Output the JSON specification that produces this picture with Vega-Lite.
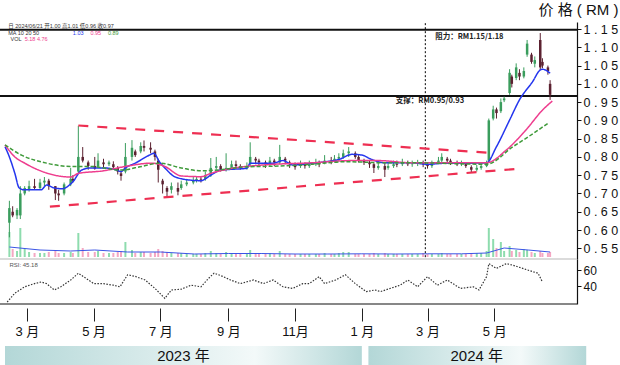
{
  "$schema": "https://vega.github.io/schema/vega-lite/v6.json",
  "width": 577,
  "height": 282,
  "autosize": {"type": "none"},
  "padding": {"left": 0, "top": 22, "right": 43, "bottom": 61},
  "background": "white",
  "config": {"view": {"stroke": null}, "font": "Liberation Sans"},
  "datasets": {
    "candles": [
      {"d":"2023-02-13","o":0.62,"h":0.68,"l":0.58,"c":0.66,"v":25},
      {"d":"2023-02-16","o":0.65,"h":0.665,"l":0.635,"c":0.64,"v":8},
      {"d":"2023-02-20","o":0.64,"h":0.66,"l":0.63,"c":0.655,"v":6},
      {"d":"2023-02-23","o":0.64,"h":0.72,"l":0.63,"c":0.70,"v":29},
      {"d":"2023-02-27","o":0.70,"h":0.72,"l":0.695,"c":0.715,"v":8},
      {"d":"2023-03-03","o":0.71,"h":0.735,"l":0.705,"c":0.72,"v":5},
      {"d":"2023-03-08","o":0.72,"h":0.74,"l":0.71,"c":0.715,"v":4},
      {"d":"2023-03-13","o":0.715,"h":0.74,"l":0.71,"c":0.73,"v":4},
      {"d":"2023-03-17","o":0.73,"h":0.745,"l":0.72,"c":0.735,"v":4},
      {"d":"2023-03-21","o":0.735,"h":0.74,"l":0.71,"c":0.72,"v":5},
      {"d":"2023-03-27","o":0.72,"h":0.72,"l":0.682,"c":0.70,"v":6},
      {"d":"2023-03-30","o":0.70,"h":0.71,"l":0.68,"c":0.695,"v":4},
      {"d":"2023-04-04","o":0.70,"h":0.73,"l":0.695,"c":0.725,"v":4},
      {"d":"2023-04-10","o":0.725,"h":0.77,"l":0.72,"c":0.74,"v":5},
      {"d":"2023-04-12","o":0.74,"h":0.75,"l":0.73,"c":0.735,"v":4},
      {"d":"2023-04-17","o":0.76,"h":0.885,"l":0.755,"c":0.80,"v":24},
      {"d":"2023-04-21","o":0.80,"h":0.827,"l":0.785,"c":0.79,"v":9},
      {"d":"2023-04-26","o":0.785,"h":0.79,"l":0.765,"c":0.775,"v":5},
      {"d":"2023-05-02","o":0.775,"h":0.80,"l":0.765,"c":0.768,"v":5},
      {"d":"2023-05-05","o":0.775,"h":0.81,"l":0.77,"c":0.79,"v":6},
      {"d":"2023-05-10","o":0.785,"h":0.795,"l":0.772,"c":0.78,"v":4},
      {"d":"2023-05-15","o":0.78,"h":0.79,"l":0.775,"c":0.785,"v":4},
      {"d":"2023-05-19","o":0.78,"h":0.788,"l":0.765,"c":0.772,"v":4},
      {"d":"2023-05-23","o":0.77,"h":0.775,"l":0.752,"c":0.76,"v":5},
      {"d":"2023-05-26","o":0.755,"h":0.76,"l":0.735,"c":0.748,"v":6},
      {"d":"2023-05-30","o":0.76,"h":0.838,"l":0.755,"c":0.80,"v":15},
      {"d":"2023-06-05","o":0.80,"h":0.846,"l":0.79,"c":0.825,"v":7},
      {"d":"2023-06-08","o":0.815,"h":0.82,"l":0.80,"c":0.805,"v":4},
      {"d":"2023-06-13","o":0.815,"h":0.84,"l":0.81,"c":0.83,"v":5},
      {"d":"2023-06-16","o":0.83,"h":0.845,"l":0.815,"c":0.825,"v":5},
      {"d":"2023-06-22","o":0.825,"h":0.84,"l":0.81,"c":0.82,"v":4},
      {"d":"2023-06-26","o":0.815,"h":0.82,"l":0.79,"c":0.80,"v":5},
      {"d":"2023-06-29","o":0.79,"h":0.795,"l":0.73,"c":0.765,"v":8},
      {"d":"2023-07-03","o":0.735,"h":0.74,"l":0.70,"c":0.725,"v":6},
      {"d":"2023-07-07","o":0.715,"h":0.72,"l":0.69,"c":0.705,"v":5},
      {"d":"2023-07-11","o":0.71,"h":0.73,"l":0.70,"c":0.72,"v":4},
      {"d":"2023-07-17","o":0.715,"h":0.73,"l":0.695,"c":0.705,"v":4},
      {"d":"2023-07-20","o":0.715,"h":0.735,"l":0.71,"c":0.725,"v":4},
      {"d":"2023-07-25","o":0.725,"h":0.74,"l":0.72,"c":0.73,"v":3},
      {"d":"2023-07-31","o":0.73,"h":0.745,"l":0.725,"c":0.735,"v":3},
      {"d":"2023-08-03","o":0.735,"h":0.748,"l":0.73,"c":0.74,"v":3},
      {"d":"2023-08-07","o":0.74,"h":0.745,"l":0.73,"c":0.738,"v":3},
      {"d":"2023-08-11","o":0.74,"h":0.76,"l":0.735,"c":0.75,"v":4},
      {"d":"2023-08-16","o":0.75,"h":0.797,"l":0.745,"c":0.77,"v":6},
      {"d":"2023-08-21","o":0.77,"h":0.80,"l":0.765,"c":0.775,"v":4},
      {"d":"2023-08-25","o":0.775,"h":0.78,"l":0.76,"c":0.765,"v":3},
      {"d":"2023-08-30","o":0.765,"h":0.81,"l":0.76,"c":0.77,"v":5},
      {"d":"2023-09-04","o":0.77,"h":0.79,"l":0.765,"c":0.78,"v":4},
      {"d":"2023-09-08","o":0.78,"h":0.79,"l":0.77,"c":0.775,"v":3},
      {"d":"2023-09-12","o":0.775,"h":0.78,"l":0.765,"c":0.77,"v":3},
      {"d":"2023-09-18","o":0.77,"h":0.785,"l":0.765,"c":0.775,"v":3},
      {"d":"2023-09-21","o":0.78,"h":0.84,"l":0.775,"c":0.80,"v":7},
      {"d":"2023-09-26","o":0.795,"h":0.80,"l":0.78,"c":0.79,"v":3},
      {"d":"2023-09-29","o":0.79,"h":0.795,"l":0.778,"c":0.785,"v":3},
      {"d":"2023-10-05","o":0.785,"h":0.79,"l":0.77,"c":0.78,"v":3},
      {"d":"2023-10-09","o":0.78,"h":0.80,"l":0.775,"c":0.79,"v":4},
      {"d":"2023-10-13","o":0.79,"h":0.795,"l":0.775,"c":0.785,"v":3},
      {"d":"2023-10-18","o":0.785,"h":0.833,"l":0.78,"c":0.80,"v":6},
      {"d":"2023-10-23","o":0.795,"h":0.80,"l":0.78,"c":0.79,"v":3},
      {"d":"2023-10-27","o":0.785,"h":0.79,"l":0.77,"c":0.78,"v":3},
      {"d":"2023-11-01","o":0.78,"h":0.785,"l":0.765,"c":0.772,"v":3},
      {"d":"2023-11-06","o":0.775,"h":0.79,"l":0.77,"c":0.78,"v":3},
      {"d":"2023-11-10","o":0.78,"h":0.785,"l":0.768,"c":0.775,"v":3},
      {"d":"2023-11-14","o":0.775,"h":0.79,"l":0.77,"c":0.78,"v":3},
      {"d":"2023-11-20","o":0.78,"h":0.795,"l":0.775,"c":0.785,"v":3},
      {"d":"2023-11-23","o":0.785,"h":0.79,"l":0.772,"c":0.78,"v":3},
      {"d":"2023-11-28","o":0.785,"h":0.805,"l":0.78,"c":0.79,"v":4},
      {"d":"2023-12-04","o":0.79,"h":0.80,"l":0.78,"c":0.788,"v":3},
      {"d":"2023-12-07","o":0.79,"h":0.805,"l":0.785,"c":0.795,"v":3},
      {"d":"2023-12-11","o":0.795,"h":0.81,"l":0.79,"c":0.80,"v":4},
      {"d":"2023-12-15","o":0.80,"h":0.82,"l":0.795,"c":0.81,"v":5},
      {"d":"2023-12-20","o":0.81,"h":0.827,"l":0.80,"c":0.815,"v":5},
      {"d":"2023-12-26","o":0.81,"h":0.815,"l":0.795,"c":0.80,"v":3},
      {"d":"2023-12-29","o":0.80,"h":0.805,"l":0.785,"c":0.79,"v":3},
      {"d":"2024-01-03","o":0.79,"h":0.795,"l":0.778,"c":0.785,"v":3},
      {"d":"2024-01-08","o":0.785,"h":0.79,"l":0.77,"c":0.78,"v":3},
      {"d":"2024-01-12","o":0.78,"h":0.783,"l":0.756,"c":0.77,"v":4},
      {"d":"2024-01-16","o":0.77,"h":0.785,"l":0.765,"c":0.775,"v":3},
      {"d":"2024-01-22","o":0.775,"h":0.783,"l":0.745,"c":0.765,"v":4},
      {"d":"2024-01-25","o":0.77,"h":0.785,"l":0.765,"c":0.775,"v":3},
      {"d":"2024-01-30","o":0.775,"h":0.79,"l":0.77,"c":0.78,"v":3},
      {"d":"2024-02-02","o":0.78,"h":0.79,"l":0.772,"c":0.778,"v":3},
      {"d":"2024-02-07","o":0.78,"h":0.795,"l":0.775,"c":0.785,"v":3},
      {"d":"2024-02-12","o":0.785,"h":0.79,"l":0.775,"c":0.78,"v":3},
      {"d":"2024-02-16","o":0.78,"h":0.79,"l":0.773,"c":0.782,"v":3},
      {"d":"2024-02-21","o":0.782,"h":0.792,"l":0.775,"c":0.785,"v":3},
      {"d":"2024-02-26","o":0.785,"h":0.79,"l":0.772,"c":0.78,"v":4},
      {"d":"2024-03-01","o":0.78,"h":0.785,"l":0.768,"c":0.775,"v":3},
      {"d":"2024-03-05","o":0.775,"h":0.79,"l":0.77,"c":0.785,"v":3},
      {"d":"2024-03-11","o":0.785,"h":0.80,"l":0.78,"c":0.79,"v":3},
      {"d":"2024-03-14","o":0.79,"h":0.81,"l":0.785,"c":0.80,"v":4},
      {"d":"2024-03-19","o":0.795,"h":0.80,"l":0.785,"c":0.79,"v":3},
      {"d":"2024-03-22","o":0.79,"h":0.795,"l":0.778,"c":0.785,"v":3},
      {"d":"2024-03-28","o":0.785,"h":0.79,"l":0.775,"c":0.78,"v":3},
      {"d":"2024-04-01","o":0.78,"h":0.79,"l":0.775,"c":0.782,"v":3},
      {"d":"2024-04-05","o":0.78,"h":0.785,"l":0.77,"c":0.775,"v":3},
      {"d":"2024-04-10","o":0.772,"h":0.777,"l":0.758,"c":0.765,"v":4},
      {"d":"2024-04-15","o":0.765,"h":0.778,"l":0.76,"c":0.77,"v":4},
      {"d":"2024-04-19","o":0.77,"h":0.78,"l":0.765,"c":0.775,"v":4},
      {"d":"2024-04-24","o":0.775,"h":0.79,"l":0.772,"c":0.785,"v":6},
      {"d":"2024-04-26","o":0.79,"h":0.905,"l":0.785,"c":0.90,"v":29},
      {"d":"2024-04-30","o":0.905,"h":0.94,"l":0.90,"c":0.93,"v":18},
      {"d":"2024-05-03","o":0.93,"h":0.935,"l":0.905,"c":0.92,"v":9},
      {"d":"2024-05-07","o":0.925,"h":0.96,"l":0.92,"c":0.95,"v":15},
      {"d":"2024-05-10","o":0.955,"h":0.965,"l":0.95,"c":0.96,"v":6},
      {"d":"2024-05-15","o":0.975,"h":1.04,"l":0.97,"c":1.03,"v":11},
      {"d":"2024-05-17","o":1.02,"h":1.025,"l":0.99,"c":1.00,"v":6},
      {"d":"2024-05-21","o":1.016,"h":1.056,"l":1.01,"c":1.045,"v":7},
      {"d":"2024-05-24","o":1.03,"h":1.04,"l":1.01,"c":1.02,"v":5},
      {"d":"2024-05-28","o":1.02,"h":1.045,"l":1.015,"c":1.035,"v":8},
      {"d":"2024-05-31","o":1.08,"h":1.12,"l":1.074,"c":1.11,"v":7},
      {"d":"2024-06-04","o":1.08,"h":1.085,"l":1.055,"c":1.06,"v":5},
      {"d":"2024-06-07","o":1.055,"h":1.075,"l":1.045,"c":1.065,"v":4},
      {"d":"2024-06-12","o":1.12,"h":1.139,"l":1.038,"c":1.045,"v":6},
      {"d":"2024-06-14","o":1.06,"h":1.07,"l":1.043,"c":1.05,"v":4},
      {"d":"2024-06-19","o":1.045,"h":1.05,"l":1.025,"c":1.035,"v":4},
      {"d":"2024-06-21","o":1.00,"h":1.01,"l":0.956,"c":0.97,"v":5}
    ],
    "ma": [
      {"s":"MA10","d":"2023-02-09","p":0.828},{"s":"MA10","d":"2023-02-13","p":0.80},{"s":"MA10","d":"2023-02-18","p":0.755},
      {"s":"MA10","d":"2023-02-22","p":0.715},{"s":"MA10","d":"2023-02-27","p":0.71},{"s":"MA10","d":"2023-03-14","p":0.71},
      {"s":"MA10","d":"2023-03-19","p":0.723},{"s":"MA10","d":"2023-03-26","p":0.715},{"s":"MA10","d":"2023-04-02","p":0.713},
      {"s":"MA10","d":"2023-04-12","p":0.732},{"s":"MA10","d":"2023-04-20","p":0.764},{"s":"MA10","d":"2023-04-28","p":0.77},
      {"s":"MA10","d":"2023-05-10","p":0.77},{"s":"MA10","d":"2023-05-22","p":0.764},{"s":"MA10","d":"2023-05-26","p":0.76},
      {"s":"MA10","d":"2023-05-30","p":0.77},{"s":"MA10","d":"2023-06-08","p":0.783},{"s":"MA10","d":"2023-06-21","p":0.805},
      {"s":"MA10","d":"2023-06-25","p":0.81},{"s":"MA10","d":"2023-06-30","p":0.787},{"s":"MA10","d":"2023-07-05","p":0.77},
      {"s":"MA10","d":"2023-07-14","p":0.746},{"s":"MA10","d":"2023-07-27","p":0.737},{"s":"MA10","d":"2023-08-07","p":0.735},
      {"s":"MA10","d":"2023-08-16","p":0.75},{"s":"MA10","d":"2023-08-25","p":0.764},{"s":"MA10","d":"2023-09-03","p":0.766},
      {"s":"MA10","d":"2023-09-18","p":0.769},{"s":"MA10","d":"2023-09-21","p":0.783},{"s":"MA10","d":"2023-10-12","p":0.783},
      {"s":"MA10","d":"2023-10-21","p":0.79},{"s":"MA10","d":"2023-10-30","p":0.778},{"s":"MA10","d":"2023-11-17","p":0.783},
      {"s":"MA10","d":"2023-11-29","p":0.787},{"s":"MA10","d":"2023-12-11","p":0.793},{"s":"MA10","d":"2023-12-23","p":0.807},
      {"s":"MA10","d":"2024-01-01","p":0.805},{"s":"MA10","d":"2024-01-10","p":0.793},{"s":"MA10","d":"2024-01-22","p":0.784},
      {"s":"MA10","d":"2024-02-15","p":0.784},{"s":"MA10","d":"2024-03-01","p":0.78},{"s":"MA10","d":"2024-03-19","p":0.783},
      {"s":"MA10","d":"2024-04-12","p":0.783},{"s":"MA10","d":"2024-04-24","p":0.784},{"s":"MA10","d":"2024-05-03","p":0.828},
      {"s":"MA10","d":"2024-05-15","p":0.901},{"s":"MA10","d":"2024-05-24","p":0.956},{"s":"MA10","d":"2024-06-05","p":1.006},
      {"s":"MA10","d":"2024-06-12","p":1.038},{"s":"MA10","d":"2024-06-14","p":1.04},{"s":"MA10","d":"2024-06-21","p":1.029},
      {"s":"MA20","d":"2023-02-09","p":0.833},{"s":"MA20","d":"2023-02-18","p":0.80},{"s":"MA20","d":"2023-02-27","p":0.783},
      {"s":"MA20","d":"2023-03-19","p":0.756},{"s":"MA20","d":"2023-04-10","p":0.745},{"s":"MA20","d":"2023-04-17","p":0.755},
      {"s":"MA20","d":"2023-05-10","p":0.762},{"s":"MA20","d":"2023-05-30","p":0.774},{"s":"MA20","d":"2023-06-23","p":0.783},
      {"s":"MA20","d":"2023-07-05","p":0.774},{"s":"MA20","d":"2023-07-20","p":0.748},{"s":"MA20","d":"2023-08-07","p":0.746},
      {"s":"MA20","d":"2023-08-16","p":0.755},{"s":"MA20","d":"2023-09-03","p":0.768},{"s":"MA20","d":"2023-10-03","p":0.778},
      {"s":"MA20","d":"2023-11-17","p":0.784},{"s":"MA20","d":"2023-12-23","p":0.79},{"s":"MA20","d":"2024-01-16","p":0.79},
      {"s":"MA20","d":"2024-02-15","p":0.784},{"s":"MA20","d":"2024-04-24","p":0.784},{"s":"MA20","d":"2024-05-12","p":0.819},
      {"s":"MA20","d":"2024-05-30","p":0.874},{"s":"MA20","d":"2024-06-14","p":0.928},{"s":"MA20","d":"2024-06-23","p":0.953},
      {"s":"MA50","d":"2023-02-09","p":0.833},{"s":"MA50","d":"2023-02-24","p":0.805},{"s":"MA50","d":"2023-03-19","p":0.783},
      {"s":"MA50","d":"2023-04-10","p":0.774},{"s":"MA50","d":"2023-04-28","p":0.774},{"s":"MA50","d":"2023-05-25","p":0.764},
      {"s":"MA50","d":"2023-06-14","p":0.774},{"s":"MA50","d":"2023-06-30","p":0.783},{"s":"MA50","d":"2023-07-20","p":0.77},
      {"s":"MA50","d":"2023-08-07","p":0.762},{"s":"MA50","d":"2023-08-25","p":0.765},{"s":"MA50","d":"2023-09-18","p":0.773},
      {"s":"MA50","d":"2023-10-18","p":0.775},{"s":"MA50","d":"2023-11-17","p":0.78},{"s":"MA50","d":"2023-12-17","p":0.787},
      {"s":"MA50","d":"2024-01-22","p":0.784},{"s":"MA50","d":"2024-02-15","p":0.784},{"s":"MA50","d":"2024-04-24","p":0.78},
      {"s":"MA50","d":"2024-05-18","p":0.828},{"s":"MA50","d":"2024-06-01","p":0.855},{"s":"MA50","d":"2024-06-19","p":0.892}
    ],
    "rsi": [
      {"d":"2023-02-11","r":20},{"d":"2023-02-18","r":31},{"d":"2023-02-27","r":39},{"d":"2023-03-08","r":43},
      {"d":"2023-03-14","r":45},{"d":"2023-03-19","r":43},{"d":"2023-03-26","r":35},{"d":"2023-04-01","r":39},
      {"d":"2023-04-10","r":47.5},{"d":"2023-04-17","r":56},{"d":"2023-04-24","r":49.6},{"d":"2023-05-01","r":43},
      {"d":"2023-05-10","r":43},{"d":"2023-05-19","r":41},{"d":"2023-05-25","r":39},{"d":"2023-06-01","r":54},
      {"d":"2023-06-08","r":52},{"d":"2023-06-17","r":47.5},{"d":"2023-06-26","r":37},{"d":"2023-07-05","r":24.6},
      {"d":"2023-07-11","r":35},{"d":"2023-07-20","r":36},{"d":"2023-07-29","r":41},{"d":"2023-08-07","r":39},
      {"d":"2023-08-14","r":49.6},{"d":"2023-08-19","r":56},{"d":"2023-08-27","r":52},{"d":"2023-09-03","r":47.5},
      {"d":"2023-09-12","r":43},{"d":"2023-09-24","r":47.5},{"d":"2023-10-03","r":43},{"d":"2023-10-12","r":47.5},
      {"d":"2023-10-21","r":39},{"d":"2023-10-30","r":37},{"d":"2023-11-08","r":43},{"d":"2023-11-14","r":43},
      {"d":"2023-11-23","r":51.7},{"d":"2023-11-28","r":43},{"d":"2023-12-08","r":47.5},{"d":"2023-12-17","r":54},
      {"d":"2023-12-26","r":43},{"d":"2024-01-05","r":33},{"d":"2024-01-13","r":35},{"d":"2024-01-18","r":33},
      {"d":"2024-01-27","r":37},{"d":"2024-02-05","r":41},{"d":"2024-02-12","r":47.5},{"d":"2024-02-21","r":39},
      {"d":"2024-03-01","r":51.7},{"d":"2024-03-10","r":41},{"d":"2024-03-19","r":47.5},{"d":"2024-03-31","r":37},
      {"d":"2024-04-12","r":39},{"d":"2024-04-17","r":35},{"d":"2024-04-24","r":51.7},{"d":"2024-04-26","r":68},
      {"d":"2024-05-03","r":62},{"d":"2024-05-12","r":68},{"d":"2024-05-18","r":66},{"d":"2024-05-27","r":62},
      {"d":"2024-06-05","r":58},{"d":"2024-06-10","r":56},{"d":"2024-06-14","r":45}
    ],
    "volma": [
      {"d":"2023-02-13","v":10},{"d":"2023-03-13","v":7},{"d":"2023-04-10","v":6},{"d":"2023-05-02","v":7},
      {"d":"2023-06-01","v":5},{"d":"2023-07-01","v":5},{"d":"2023-08-01","v":3},{"d":"2023-09-01","v":3.5},
      {"d":"2023-10-01","v":3.5},{"d":"2023-11-01","v":3},{"d":"2023-12-01","v":3},{"d":"2024-01-01","v":3.2},
      {"d":"2024-02-01","v":3},{"d":"2024-03-01","v":3.2},{"d":"2024-04-01","v":3.2},{"d":"2024-04-24","v":4},
      {"d":"2024-05-10","v":9},{"d":"2024-06-01","v":7},{"d":"2024-06-21","v":5}
    ],
    "channel": [
      {"ln":"upper","d":"2023-04-17","p":0.886},{"ln":"upper","d":"2024-04-28","p":0.811},
      {"ln":"lower","d":"2023-03-22","p":0.664},{"ln":"lower","d":"2024-05-21","p":0.767}
    ],
    "levels": [{"p":1.148},{"p":0.967}],
    "marker": [{"d":"2024-02-28"}],
    "notes": [
      {"d":"2024-03-08","p":1.128,"t":"阻力：RM1.15/1.18"},
      {"d":"2024-02-01","p":0.953,"t":"支撑：RM0.95/0.93"}
    ],
    "years": [
      {"d":"2023-02-09","d2":"2024-01-01"},
      {"d":"2024-01-07","d2":"2024-07-24"}
    ],
    "yearlabels": [
      {"d":"2023-07-22","t":"2023 年"},
      {"d":"2024-04-15","t":"2024 年"}
    ],
    "legendtext": [
      {"s":"k","d":"2023-02-12","p":1.1596,"t":"日 2024/06/21 开1.00 高1.01 低0.96 收0.97"},
      {"s":"k","d":"2023-02-12","p":1.139,"t":"MA 10 20 50"},
      {"s":"b","d":"2023-04-12","p":1.139,"t":"1.03"},
      {"s":"m","d":"2023-04-28","p":1.139,"t":"0.95"},
      {"s":"g","d":"2023-05-14","p":1.139,"t":"0.89"},
      {"s":"k","d":"2023-02-14","p":1.124,"t":"VOL"},
      {"s":"m","d":"2023-02-27","p":1.124,"t":"5.18  4.76"}
    ],
    "rsitext": [{"d":"2023-02-13","r":66.5,"t":"RSI: 45.18"}]
  },
  "encoding": {
    "x": {
      "field": "d", "type": "temporal",
      "scale": {"domain": [{"year":2023,"month":2,"date":9}, {"year":2024,"month":7,"date":11}]},
      "axis": {
        "orient": "bottom", "title": null, "grid": false, "domain": false,
        "values": [{"year":2023,"month":3,"date":1},{"year":2023,"month":5,"date":1},{"year":2023,"month":7,"date":1},{"year":2023,"month":9,"date":1},{"year":2023,"month":11,"date":1},{"year":2024,"month":1,"date":1},{"year":2024,"month":3,"date":1},{"year":2024,"month":5,"date":1}],
        "labelExpr": "(month(datum.value)+1) + (month(datum.value) < 9 ? ' 月' : '月')",
        "offset": 4, "tickSize": 13, "tickColor": "#222", "tickWidth": 1,
        "labelFont": "Liberation Sans, Noto Sans CJK SC", "labelFontSize": 13, "labelColor": "#111",
        "labelPadding": 4, "labelFlush": false, "labelOverlap": false
      }
    }
  },
  "layer": [
    {
      "data": {"name": "years"},
      "mark": {"type": "rect", "color": {"gradient": "linear", "x1": 0, "y1": 0, "x2": 1, "y2": 0, "stops": [{"offset": 0, "color": "#b3d7d7"}, {"offset": 0.7, "color": "#f3f9f9"}, {"offset": 1, "color": "#b3d7d7"}]}},
      "encoding": {
        "x2": {"field": "d2"},
        "y": {"datum": 0, "type": "quantitative", "scale": {"domain": [0, 1], "range": [343, 324], "zero": false, "nice": false}, "axis": null},
        "y2": {"datum": 1}
      }
    },
    {
      "data": {"name": "yearlabels"},
      "mark": {"type": "text", "font": "Liberation Sans, Noto Sans CJK SC", "fontSize": 15, "color": "#111", "baseline": "middle", "align": "center"},
      "encoding": {
        "y": {"datum": 0.5, "type": "quantitative", "scale": {"domain": [0, 1], "range": [343, 324], "zero": false, "nice": false}, "axis": null},
        "text": {"field": "t"}
      }
    },
    {
      "data": {"name": "candles"},
      "mark": {"type": "bar", "size": 2},
      "encoding": {
        "y": {"field": "v", "type": "quantitative", "scale": {"domain": [0, 30], "range": [235, 205], "nice": false}, "axis": null},
        "color": {"condition": {"test": "datum.c >= datum.o", "value": "#8edcae"}, "value": "#f4a7c3"}
      }
    },
    {
      "data": {"name": "volma"},
      "mark": {"type": "line", "color": "#3b55e6", "strokeWidth": 1},
      "encoding": {
        "y": {"field": "v", "type": "quantitative", "scale": {"domain": [0, 30], "range": [235, 205], "nice": false}, "axis": null}
      }
    },
    {
      "data": {"name": "levels"},
      "mark": {"type": "rule", "color": "#111", "strokeWidth": 2},
      "encoding": {
        "x": null,
        "y": {"field": "p", "type": "quantitative", "scale": {"domain": [0.5207, 1.1692], "range": [237, 0], "zero": false, "nice": false}, "axis": null}
      }
    },
    {
      "data": {"name": "notes"},
      "mark": {"type": "text", "font": "Noto Sans CJK SC", "fontSize": 7.5, "fontWeight": "bold", "color": "#222", "align": "left", "baseline": "middle"},
      "encoding": {
        "y": {"field": "p", "type": "quantitative", "scale": {"domain": [0.5207, 1.1692], "range": [237, 0], "zero": false, "nice": false}, "axis": null},
        "text": {"field": "t"}
      }
    },
    {
      "data": {"name": "marker"},
      "mark": {"type": "rule", "color": "#000", "strokeWidth": 1, "strokeDash": [2, 2]},
      "encoding": {
        "y": {"datum": 1.166, "type": "quantitative", "scale": {"domain": [0.5207, 1.1692], "range": [237, 0], "zero": false, "nice": false}, "axis": null},
        "y2": {"datum": 0.524}
      }
    },
    {
      "data": {"name": "candles"},
      "mark": {"type": "rule", "strokeWidth": 1},
      "encoding": {
        "y": {
          "field": "l", "type": "quantitative",
          "scale": {"domain": [0.5207, 1.1692], "range": [237, 0], "zero": false, "nice": false},
          "axis": {
            "orient": "right", "values": [0.55, 0.6, 0.65, 0.7, 0.75, 0.8, 0.85, 0.9, 0.95, 1.0, 1.05, 1.1, 1.15],
            "labelExpr": "substring(format(datum.value,'.2f'),0,1)+' '+substring(format(datum.value,'.2f'),1,2)+' '+substring(format(datum.value,'.2f'),2,3)+' '+substring(format(datum.value,'.2f'),3,4)",
            "grid": false, "domainColor": "#111", "domainWidth": 1.2, "tickColor": "#111", "tickSize": 4,
            "labelFont": "Liberation Sans", "labelFontSize": 12.5, "labelColor": "#111", "labelPadding": 2,
            "labelFlush": false, "labelOverlap": false,
            "title": "价 格 ( RM )", "titleAngle": 0, "titleAlign": "right", "titleBaseline": "alphabetic",
            "titleX": 41, "titleY": -8, "titleFont": "Liberation Sans, Noto Sans CJK SC", "titleFontSize": 15, "titleFontWeight": "normal", "titleColor": "#111"
          }
        },
        "y2": {"field": "h"},
        "color": {"condition": {"test": "datum.c >= datum.o", "value": "#3a9d5d"}, "value": "#5b2130"}
      }
    },
    {
      "data": {"name": "candles"},
      "mark": {"type": "bar", "size": 2.5},
      "encoding": {
        "y": {"field": "o", "type": "quantitative", "scale": {"domain": [0.5207, 1.1692], "range": [237, 0], "zero": false, "nice": false}, "axis": null},
        "y2": {"field": "c"},
        "color": {"condition": {"test": "datum.c >= datum.o", "value": "#3a9d5d"}, "value": "#5b2130"}
      }
    },
    {
      "data": {"name": "channel"},
      "mark": {"type": "line", "color": "#ee2f52", "strokeWidth": 2.2, "strokeDash": [10, 9]},
      "encoding": {
        "y": {"field": "p", "type": "quantitative", "scale": {"domain": [0.5207, 1.1692], "range": [237, 0], "zero": false, "nice": false}, "axis": null},
        "detail": {"field": "ln"}
      }
    },
    {
      "data": {"name": "ma"},
      "mark": {"type": "line", "strokeWidth": 1.5, "interpolate": "monotone"},
      "encoding": {
        "y": {"field": "p", "type": "quantitative", "scale": {"domain": [0.5207, 1.1692], "range": [237, 0], "zero": false, "nice": false}, "axis": null},
        "color": {"field": "s", "type": "nominal", "scale": {"domain": ["MA10", "MA20", "MA50"], "range": ["#2436ee", "#ee3d8e", "#3f9a3a"]}, "legend": null},
        "strokeDash": {"field": "s", "type": "nominal", "scale": {"domain": ["MA10", "MA20", "MA50"], "range": [[1, 0], [1, 0], [4, 2]]}, "legend": null}
      }
    },
    {
      "data": {"name": "rsi"},
      "mark": {"type": "line", "color": "#333", "strokeWidth": 1.2, "strokeDash": [1.5, 1.5]},
      "encoding": {
        "y": {
          "field": "r", "type": "quantitative",
          "scale": {"domain": [17.5, 73.75], "range": [282, 237], "zero": false, "nice": false},
          "axis": {
            "orient": "right", "values": [40, 60], "grid": false, "title": null,
            "domainColor": "#111", "domainWidth": 1.2, "tickColor": "#111", "tickSize": 4,
            "labelFont": "Liberation Sans", "labelFontSize": 12, "labelColor": "#111", "labelPadding": 2, "labelFlush": false
          }
        }
      }
    },
    {
      "data": {"name": "rsitext"},
      "mark": {"type": "text", "fontSize": 6, "color": "#555", "align": "left", "baseline": "middle"},
      "encoding": {
        "y": {"field": "r", "type": "quantitative", "scale": {"domain": [17.5, 73.75], "range": [282, 237], "zero": false, "nice": false}, "axis": null},
        "text": {"field": "t"}
      }
    },
    {
      "data": {"values": [{}]},
      "mark": {"type": "rule", "color": "#cfcfcf", "strokeWidth": 1.5},
      "encoding": {
        "x": null,
        "y": {"datum": 73.75, "type": "quantitative", "scale": {"domain": [17.5, 73.75], "range": [282, 237], "zero": false, "nice": false}, "axis": null}
      }
    },
    {
      "data": {"values": [{}]},
      "mark": {"type": "rule", "color": "#111", "strokeWidth": 1.2},
      "encoding": {
        "x": null,
        "y": {"datum": 17.5, "type": "quantitative", "scale": {"domain": [17.5, 73.75], "range": [282, 237], "zero": false, "nice": false}, "axis": null}
      }
    },
    {
      "data": {"values": [{}]},
      "mark": {"type": "rule", "color": "#888", "strokeWidth": 2},
      "encoding": {
        "x": {"datum": {"year": 2023, "month": 2, "date": 9}, "type": "temporal"}
      }
    },
    {
      "data": {"values": [{}]},
      "mark": {"type": "rule", "color": "#333", "strokeWidth": 1.5},
      "encoding": {
        "x": {"datum": {"year": 2023, "month": 2, "date": 9}, "type": "temporal"},
        "x2": {"datum": {"year": 2023, "month": 12, "date": 1}},
        "y": {"datum": 1.1692, "type": "quantitative", "scale": {"domain": [0.5207, 1.1692], "range": [237, 0], "zero": false, "nice": false}, "axis": null}
      }
    },
    {
      "data": {"name": "legendtext"},
      "mark": {"type": "text", "font": "Liberation Sans, Noto Sans CJK SC", "fontSize": 5.5, "align": "left", "baseline": "middle"},
      "encoding": {
        "y": {"field": "p", "type": "quantitative", "scale": {"domain": [0.5207, 1.1692], "range": [237, 0], "zero": false, "nice": false}, "axis": null},
        "text": {"field": "t"},
        "color": {"field": "s", "type": "nominal", "scale": {"domain": ["k", "b", "m", "g"], "range": ["#333333", "#2436ee", "#ee3d8e", "#3f9a3a"]}, "legend": null}
      }
    }
  ],
  "resolve": {"scale": {"y": "independent", "color": "independent", "strokeDash": "independent"}, "axis": {"y": "independent"}}
}
